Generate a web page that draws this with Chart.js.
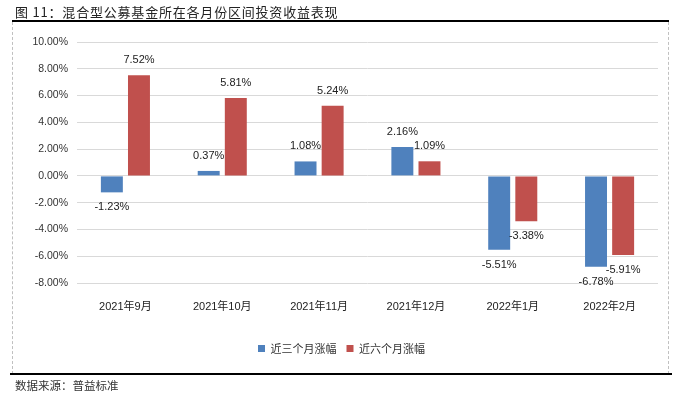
<!DOCTYPE html>
<html>
<head>
<meta charset="utf-8">
<script src="https://cdn.jsdelivr.net/npm/chart.js@4/dist/chart.umd.min.js"></script>
<style>
  html,body{margin:0;padding:0;background:#fff;}
  #wrap{position:relative;width:683px;height:395px;overflow:hidden;}
  #chart{position:absolute;left:0;top:0;}
  .title{position:absolute;left:15px;top:2px;font:13px "Noto Sans CJK SC",sans-serif;color:#222;letter-spacing:0.8px;white-space:nowrap;}
  .rule{position:absolute;background:#000;height:2px;}
  .dash{position:absolute;top:22px;height:352px;width:0;border-left:1px dashed #c0c0c0;}
  .foot{position:absolute;left:15px;top:377px;font:11.5px "Noto Sans CJK SC",sans-serif;color:#333;white-space:nowrap;}
</style>
</head>
<body>
<div id="wrap">
  <canvas id="chart" width="683" height="395"></canvas>
  <div class="title">图 11：混合型公募基金所在各月份区间投资收益表现</div>
  <div class="rule" style="left:12px;top:20px;width:657px;"></div>
  <div class="dash" style="left:12px;"></div>
  <div class="dash" style="left:668px;"></div>
  <div class="rule" style="left:10px;top:373px;width:662px;"></div>
  <div class="foot">数据来源：普益标准</div>
</div>
<script>
// chart data
const months = ['2021年9月','2021年10月','2021年11月','2021年12月','2022年1月','2022年2月'];
const threeMonth = [-1.23, 0.37, 1.08, 2.16, -5.51, -6.78];
const sixMonth = [7.52, 5.81, 5.24, 1.09, -3.38, -5.91];
const seriesNames = ['近三个月涨幅','近六个月涨幅'];
const yTicks = {min:-8, max:10, step:2};

const FONT = '"Liberation Sans", Arial, "Noto Sans CJK SC", sans-serif';

// value labels above / below each bar
const barLabels = {
  id:'barLabels',
  afterDatasetsDraw(chart){
    const ctx = chart.ctx;
    ctx.save();
    ctx.font = '11px ' + FONT;
    ctx.fillStyle = '#222';
    ctx.textAlign = 'center';
    ctx.textBaseline = 'middle';
    chart.data.datasets.forEach((ds, di)=>{
      const meta = chart.getDatasetMeta(di);
      meta.data.forEach((bar, i)=>{
        const v = ds.data[i];
        const y = v >= 0 ? bar.y - 15 : bar.y + 15;
        ctx.fillText(v.toFixed(2) + '%', bar.x, y);
      });
    });
    ctx.restore();
  }
};

new Chart(document.getElementById('chart'), {
  type:'bar',
  data:{
    labels: months,
    datasets:[
      {label:seriesNames[0], data:threeMonth, backgroundColor:'#4F81BD', categoryPercentage:0.56, barPercentage:0.81},
      {label:seriesNames[1], data:sixMonth, backgroundColor:'#C0504D', categoryPercentage:0.56, barPercentage:0.81}
    ]
  },
  options:{
    responsive:false,
    animation:false,
    layout:{padding:{left:25, right:25, top:42, bottom:31}},
    plugins:{
      tooltip:{enabled:false},
      legend:{
        position:'bottom',
        labels:{boxWidth:7, boxHeight:7, padding:10, color:'#333', font:{size:11, family:'"Noto Sans CJK SC", sans-serif'}}
      }
    },
    scales:{
      x:{
        grid:{display:false},
        border:{display:false},
        ticks:{color:'#222', padding:9, font:{size:11, family:FONT}, maxRotation:0},
        afterFit(s){ s.height = 50; }
      },
      y:{
        min:yTicks.min, max:yTicks.max,
        grid:{color:'#d9d9d9', drawTicks:false},
        border:{display:false},
        ticks:{stepSize:yTicks.step, padding:9, color:'#333', font:{size:10.5, family:FONT},
          callback:v=> v.toFixed(2) + '%'},
        afterFit(s){ s.width = 52; }
      }
    }
  },
  plugins:[barLabels]
});
</script>
</body>
</html>
